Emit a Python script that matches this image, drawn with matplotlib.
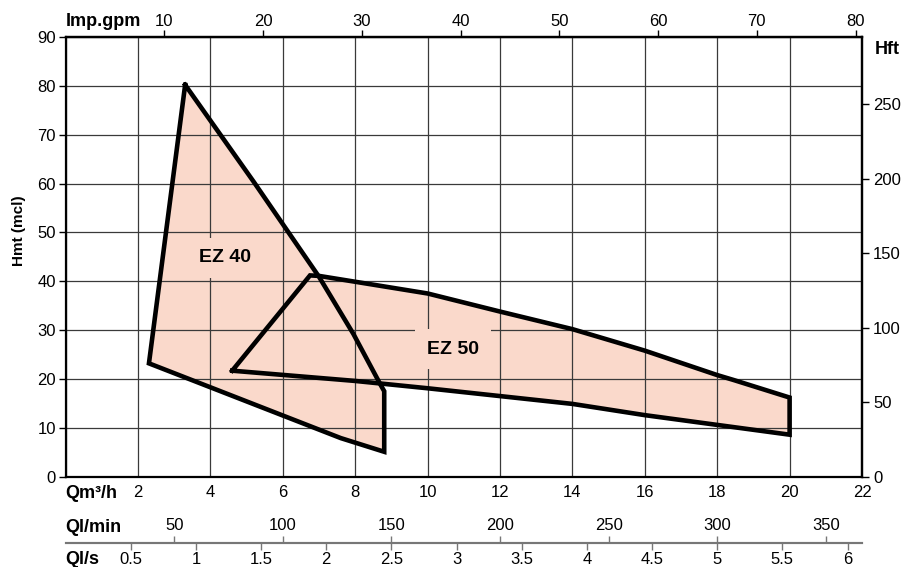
import matplotlib.pyplot as plt
from matplotlib.ticker import FuncFormatter

plt.rcParams['font.family'] = ['Liberation Sans', 'DejaVu Sans']

# pump ranges, Q in m3/h, H in m
ez40_q = [3.3, 5.2, 7.0, 7.95, 8.7, 8.8, 8.8, 7.6, 2.3, 3.3]
ez40_h = [80.2, 60.3, 40.9, 29.2, 18.8, 17.5, 5.1, 7.9, 23.2, 80.2]

ez50_q = [4.6, 8.0, 10.0, 12.0, 14.0, 16.0, 18.0, 20.0, 20.0, 18.45, 18.0, 16.0, 14.0,
          12.0, 10.0, 8.0, 7.0, 6.75, 4.6]
ez50_h = [21.7, 19.6, 18.1, 16.5, 14.9, 12.6, 10.6, 8.6, 16.2, 19.8, 20.8, 25.8, 30.2,
          33.8, 37.5, 39.9, 41.1, 41.2, 21.7]

names = ['EZ 40', 'EZ 50']
name_q = [4.4, 10.7]
name_h = [44.8, 26.1]

q_grid = list(range(0, 23, 2))
h_grid = list(range(0, 91, 10))
gpm_ticks = [10, 20, 30, 40, 50, 60, 70, 80]
lmin_ticks = [50, 100, 150, 200, 250, 300, 350]
ls_ticks = [0.5, 1, 1.5, 2, 2.5, 3, 3.5, 4, 4.5, 5, 5.5, 6]
hft_ticks = [0, 50, 100, 150, 200, 250]

fill_col = '#fad9cb'
W, H = 904, 567

fig = plt.figure(figsize=(9.04, 5.67), dpi=100)
ax = fig.add_axes([65.7 / W, 1 - 476.7 / H, (862 - 65.7) / W, (476.7 - 37) / H])

ax.fill(ez40_q, ez40_h, color=fill_col, zorder=1)
ax.fill(ez50_q, ez50_h, color=fill_col, zorder=1)
ax.plot(ez40_q, ez40_h, color='k', lw=3.3, solid_joinstyle='miter', zorder=4)
ax.plot(ez50_q, ez50_h, color='k', lw=3.3, solid_joinstyle='miter', zorder=4)

for n, q, h in zip(names, name_q, name_h):
    ax.text(q, h, n, ha='center', va='center', fontsize=14, fontweight='bold', zorder=3,
            bbox=dict(boxstyle='square,pad=0.6', fc=fill_col, ec='none'))

ax.set_xlim(0, 22)
ax.set_ylim(0, 90)
ax.set_xticks(q_grid, [''] + [str(v) for v in q_grid[1:]])
ax.set_yticks(h_grid)
ax.set_axisbelow('line')
ax.grid(True, color='#3a3a3a', lw=0.9)
ax.tick_params(axis='x', length=0, pad=6, labelsize=12)
ax.tick_params(axis='y', direction='out', length=5, width=1, pad=2, labelsize=12)
for s in ax.spines.values():
    s.set_linewidth(1.6)

# Imp.gpm on top
top = ax.secondary_xaxis('top', functions=(lambda q: q * 1000 / 60 / 4.54609,
                                           lambda g: g * 4.54609 * 60 / 1000))
top.set_xticks(gpm_ticks)
top.tick_params(length=5, width=1, pad=1, labelsize=12)
top.spines['top'].set_linewidth(1.6)

# Hft on right
right = ax.secondary_yaxis('right', functions=(lambda h: h * 3.2808, lambda f: f / 3.2808))
right.set_yticks(hft_ticks)
right.tick_params(length=5, width=1, pad=3, labelsize=12)
right.spines['right'].set_linewidth(1.6)

fmt = FuncFormatter(lambda v, p: '%g' % v)

# l/min above the grey line, l/s below it
lmin = ax.secondary_xaxis(-0.15, functions=(lambda q: q * 1000 / 60, lambda l: l * 60 / 1000))
lmin.set_alignment('top')
lmin.set_xticks(lmin_ticks)
lmin.xaxis.set_major_formatter(fmt)
lmin.tick_params(length=5, width=1, color='#777777', pad=2, labelsize=12)
lmin.spines['top'].set_color('#777777')
lmin.spines['top'].set_linewidth(1.5)

ls = ax.secondary_xaxis(-0.15, functions=(lambda q: q / 3.6, lambda s: s * 3.6))
ls.set_xticks(ls_ticks)
ls.xaxis.set_major_formatter(fmt)
ls.tick_params(length=5, width=1, color='#777777', pad=2, labelsize=12)
ls.spines['bottom'].set_color('#777777')
ls.spines['bottom'].set_linewidth(1.5)

fig.text(65.7 / W, 1 - 22 / H, 'Imp.gpm', ha='left', va='center', fontsize=13, fontweight='bold')
fig.text(875 / W, 1 - 49 / H, 'Hft', ha='left', va='center', fontsize=13, fontweight='bold')
fig.text(19 / W, 1 - 231 / H, 'Hmt (mcl)', ha='center', va='center', rotation=90,
         fontsize=11, fontweight='bold')
fig.text(65.7 / W, 1 - 494 / H, 'Qm³/h', ha='left', va='center', fontsize=13, fontweight='bold')
fig.text(65.7 / W, 1 - 527 / H, 'Ql/min', ha='left', va='center', fontsize=13, fontweight='bold')
fig.text(65.7 / W, 1 - 560 / H, 'Ql/s', ha='left', va='center', fontsize=13, fontweight='bold')

fig.savefig('out.png', dpi=100)
